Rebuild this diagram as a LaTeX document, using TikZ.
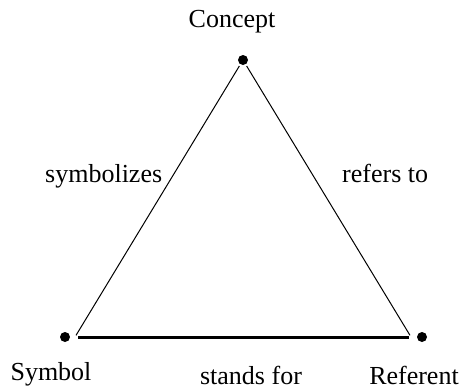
\documentclass[tikz,border=0pt]{standalone}
\usepackage{fontspec}
\setmainfont{Liberation Serif}
\begin{document}
\begin{tikzpicture}[x=1pt,y=-1pt,
    vertex/.style={circle,fill=black,inner sep=0pt,minimum size=10pt},
    word/.style={inner sep=0pt,anchor=base,font=\fontsize{26}{30}\selectfont},
    thinedge/.style={line width=1pt},
    thickedge/.style={line width=3pt}]
			%%%%% START %%%%%
			\useasboundingbox (0, 0) rectangle (463, 389);
			
			\node[vertex] (concept) at (243, 60) {};
			\node[vertex] (symbol) at (65, 337) {};
			\node[vertex] (referent) at (422, 337) {};
			\coordinate (symbolcorner) at ([xshift=10pt]symbol.center);
			\coordinate (referentcorner) at ([xshift=-11pt]referent.center);
			
			\draw[thinedge, shorten <=2pt, shorten >=7pt] (symbolcorner) -- (concept.center);
			\draw[thinedge, shorten <=7pt, shorten >=2pt] (concept.center) -- (referentcorner);
			\draw[thickedge, shorten <=3pt, shorten >=2pt] (symbolcorner) -- (referentcorner);
			
			\node[word] (conceptlabel) at (232, 27) {Concept};
			\node[word, anchor=base west] (symbolizes) at (45, 182) {symbolizes};
			\node[word, anchor=base west] (refersto) at (342, 182) {refers to};
			\node[word] (symbollabel) at (51, 380) {Symbol};
			\node[word] (standsfor) at (251, 384) {stands for};
			\node[word] (referentlabel) at (414, 384) {Referent};
			
			%%%%% END %%%%%
\end{tikzpicture}
\end{document}
